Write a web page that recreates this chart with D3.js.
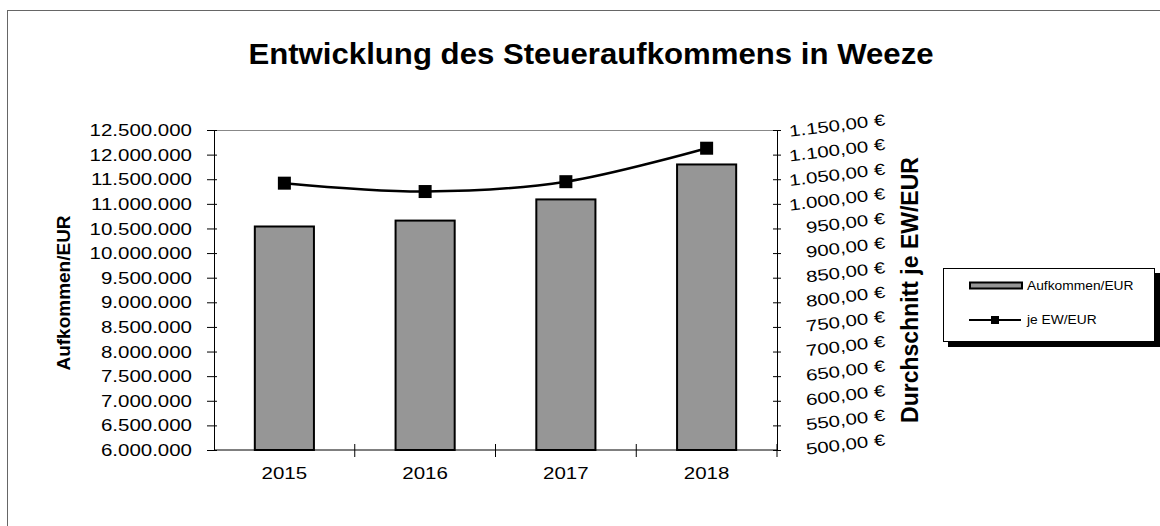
<!DOCTYPE html>
<html>
<head>
<meta charset="utf-8">
<script src="https://cdn.jsdelivr.net/npm/d3@7"></script>
<style>
body{margin:0;background:#fff;}
text{font-family:"Liberation Sans",Arial,sans-serif;fill:#000;}
</style>
</head>
<body>
<div id="chartContainer"></div>
<script>
// data
const years=["2015","2016","2017","2018"];
const aufkommen=[10540000,10660000,11090000,11800000];
const jeEW=[1042,1025,1045,1113];
const leftTicks=d3.range(6000000,12500001,500000);
const rightTicks=d3.range(500,1150.1,50);

const W=1160,H=526;
const plot={left:214,right:777,top:130,bottom:450};
const sx=1.28; // the picture is stretched sideways

const de=d3.formatLocale({decimal:",",thousands:".",grouping:[3],currency:["","\u00a0€"]});
const fmtL=de.format(",.0f");
const fmtR=d=>de.format(",.2f")(d)+" €";

const svg=d3.select("#chartContainer")
    .append("svg")
    .attr("width",W)
    .attr("height",H);

// outer chart frame (right and bottom edge lie outside the picture)
svg.append("rect")
    .attr("x",7.5).attr("y",10.5)
    .attr("width",W+40).attr("height",H+40)
    .attr("fill","none")
    .attr("stroke","#666");

svg.append("text")
    .attr("transform",`translate(591,64) scale(1.075,1)`)
    .attr("text-anchor","middle")
    .style("font-size","29px")
    .style("font-weight","bold")
    .text("Entwicklung des Steueraufkommens in Weeze");

const x=d3.scaleBand()
    .domain(years)
    .range([plot.left,plot.right])
    .padding(0);
const yL=d3.scaleLinear()
    .domain([6000000,12500000])
    .range([plot.bottom,plot.top]);
const yR=d3.scaleLinear()
    .domain([500,1150])
    .range([plot.bottom,plot.top]);

// gray top edge of plot area
svg.append("line")
    .attr("x1",plot.left).attr("x2",plot.right)
    .attr("y1",plot.top+0.5).attr("y2",plot.top+0.5)
    .attr("stroke","#888");

// bars
const barW=x.bandwidth()*0.42;
svg.selectAll(".bar")
    .data(years)
    .enter()
    .append("rect")
    .attr("class","bar")
    .attr("x",(d,i)=>x(d)+x.bandwidth()/2-barW/2)
    .attr("y",(d,i)=>yL(aufkommen[i]))
    .attr("width",barW)
    .attr("height",(d,i)=>plot.bottom-yL(aufkommen[i]))
    .attr("fill","#969696")
    .attr("stroke","#000")
    .attr("stroke-width",2);

// left axis
const gL=svg.append("g")
    .attr("transform",`translate(${plot.left},0)`)
    .call(d3.axisLeft(yL).tickValues(leftTicks).tickFormat(fmtL).tickSizeOuter(0).tickSize(7));
gL.select(".domain").attr("stroke","#000");
gL.selectAll(".tick line").attr("x1",3);
gL.selectAll(".tick text")
    .attr("x",null).attr("dy","0.35em")
    .attr("transform",`translate(-22,0) scale(${sx},1)`)
    .style("font-size","16px")
    .style("font-family",null);

// right axis
const gR=svg.append("g")
    .attr("transform",`translate(${plot.right},0)`)
    .call(d3.axisRight(yR).tickValues(rightTicks).tickFormat(fmtR).tickSizeOuter(0).tickSize(4));
gR.select(".domain").attr("stroke","#000");
gR.selectAll(".tick line").attr("x1",-4);
gR.selectAll(".tick text")
    .attr("x",null).attr("dy","0.35em")
    .attr("text-anchor","end")
    .attr("transform",`translate(108,-11) rotate(-7) scale(${sx},1)`)
    .style("font-size","16px")
    .style("font-family",null);

// bottom axis, ticks sit between the categories
svg.append("line")
    .attr("x1",plot.left).attr("x2",plot.right)
    .attr("y1",plot.bottom).attr("y2",plot.bottom)
    .attr("stroke","#000");
svg.selectAll(".xtick")
    .data(years.slice(1).concat(["end"]))
    .enter()
    .append("line")
    .attr("class","xtick")
    .attr("x1",d=>d=="end"?plot.right:x(d))
    .attr("x2",d=>d=="end"?plot.right:x(d))
    .attr("y1",plot.bottom-6)
    .attr("y2",plot.bottom+7)
    .attr("stroke","#000");
svg.selectAll(".xlabel")
    .data(years)
    .enter()
    .append("text")
    .attr("class","xlabel")
    .attr("transform",d=>`translate(${x(d)+x.bandwidth()/2},479) scale(${sx},1)`)
    .attr("text-anchor","middle")
    .style("font-size","16px")
    .text(d=>d);

// line series
const line=d3.line()
    .x((d,i)=>x(years[i])+x.bandwidth()/2)
    .y(d=>yR(d))
    .curve(d3.curveCardinal.tension(0));
svg.append("path")
    .datum(jeEW)
    .attr("d",line)
    .attr("fill","none")
    .attr("stroke","#000")
    .attr("stroke-width",2.5);
const m=13;
svg.selectAll(".marker")
    .data(jeEW)
    .enter()
    .append("rect")
    .attr("class","marker")
    .attr("x",(d,i)=>x(years[i])+x.bandwidth()/2-m/2)
    .attr("y",d=>yR(d)-m/2)
    .attr("width",m)
    .attr("height",m)
    .attr("fill","#000");

// axis titles
svg.append("text")
    .attr("transform","translate(70,293) rotate(-90)")
    .attr("text-anchor","middle")
    .style("font-size","19px")
    .style("font-weight","bold")
    .text("Aufkommen/EUR");
svg.append("text")
    .attr("transform","translate(918,290) rotate(-90)")
    .attr("text-anchor","middle")
    .style("font-size","23px")
    .style("font-weight","bold")
    .text("Durchschnitt je EW/EUR");

// legend
const lg=svg.append("g");
lg.append("rect")
    .attr("x",948).attr("y",273)
    .attr("width",212).attr("height",74)
    .attr("fill","#000");
lg.append("rect")
    .attr("x",943.5).attr("y",268.5)
    .attr("width",211).attr("height",73)
    .attr("fill","#fff")
    .attr("stroke","#000");
lg.append("rect")
    .attr("x",970).attr("y",282.5)
    .attr("width",52).attr("height",6)
    .attr("fill","#969696")
    .attr("stroke","#000")
    .attr("stroke-width",2);
lg.append("line")
    .attr("x1",969).attr("x2",1021)
    .attr("y1",320).attr("y2",320)
    .attr("stroke","#000")
    .attr("stroke-width",2);
lg.append("rect")
    .attr("x",991).attr("y",316)
    .attr("width",8).attr("height",8)
    .attr("fill","#000");
lg.selectAll(".ltext")
    .data(["Aufkommen/EUR","je EW/EUR"])
    .enter()
    .append("text")
    .attr("class","ltext")
    .attr("transform",(d,i)=>`translate(1027,${286+i*34}) scale(1.15,1)`)
    .attr("dy","0.35em")
    .style("font-size","12px")
    .text(d=>d);
</script>
</body>
</html>
